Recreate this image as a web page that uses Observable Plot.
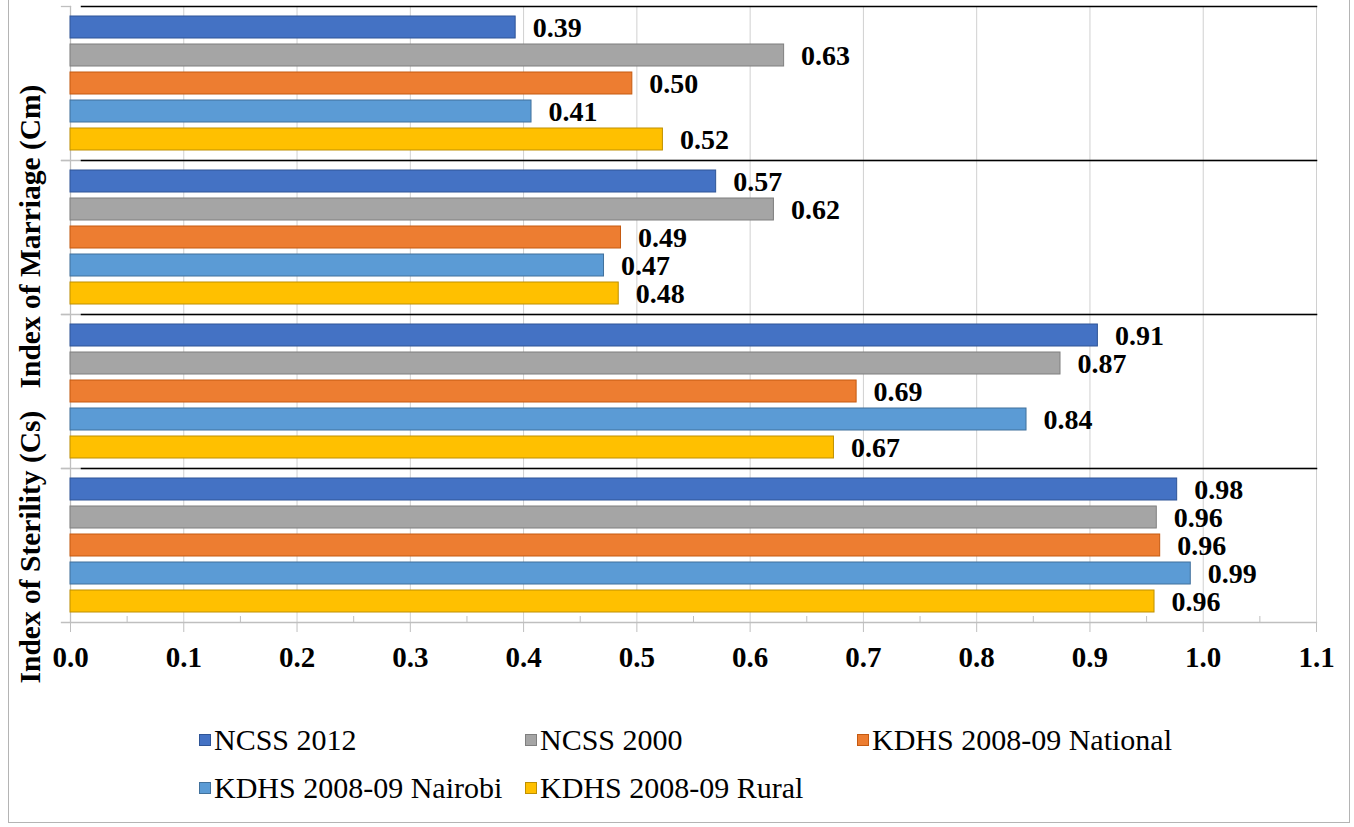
<!DOCTYPE html>
<html>
<head>
<meta charset="utf-8">
<script src="https://cdn.jsdelivr.net/npm/d3@7"></script>
<script src="https://cdn.jsdelivr.net/npm/@observablehq/plot@0.6"></script>
<style>
  html, body { margin: 0; padding: 0; background: #fff; }
  #wrap { position: relative; width: 1354px; height: 827px; overflow: hidden; font-family: "Liberation Serif", "Times New Roman", serif; }
  #border { position: absolute; left: 8px; top: -3px; width: 1342px; height: 826px; border: 1.5px solid #b4b4b4; box-sizing: border-box; }
  #chart { position: absolute; left: 0; top: 0; }
  #legend { position: absolute; left: 199px; top: 723px; display: grid; grid-template-columns: 326px 332px auto; row-gap: 14px; font-size: 30px; line-height: 34px; color: #000; }
  .item { display: flex; align-items: center; white-space: nowrap; }
  .sw { width: 12px; height: 12px; box-sizing: border-box; border: 1px solid; margin-right: 3px; }
</style>
</head>
<body>
<div id="wrap">
  <div id="chart"></div>
  <div id="legend"></div>
  <div id="border"></div>
</div>
<script>
// ---- data ----
const groups = ["Index 1", "Index 2", "Index 3", "Index 4"];
const series = ["NCSS 2012", "NCSS 2000", "KDHS 2008-09 National", "KDHS 2008-09 Nairobi", "KDHS 2008-09 Rural"];
// values per series, one per group (top to bottom)
const ncss2012     = [0.393, 0.570, 0.907, 0.977];
const ncss2000     = [0.630, 0.621, 0.874, 0.959];
const kdhsNational = [0.496, 0.486, 0.694, 0.962];
const kdhsNairobi  = [0.407, 0.471, 0.844, 0.989];
const kdhsRural    = [0.523, 0.484, 0.674, 0.957];
const xTicks = [0, 0.1, 0.2, 0.3, 0.4, 0.5, 0.6, 0.7, 0.8, 0.9, 1.0, 1.1];
const xMinorTicks = [0.05, 0.15, 0.25, 0.35, 0.45, 0.55, 0.65, 0.75, 0.85, 0.95, 1.05];
const yTitle = "Index of Sterility (Cs)\u00A0\u00A0 Index of Marriage (Cm)";

// ---- styles ----
const fillColors   = ["#4472C4", "#A5A5A5", "#ED7D31", "#5B9BD5", "#FFC000"];
const strokeColors = ["#2F5597", "#7F7F7F", "#C55A11", "#41719C", "#BF9000"];

const seriesValues = [ncss2012, ncss2000, kdhsNational, kdhsNairobi, kdhsRural];
const data = [];
groups.forEach((g, gi) => {
  series.forEach((s, si) => {
    data.push({group: g, series: s, si, value: seriesValues[si][gi]});
  });
});

const W = 1354, H = 700;
const mL = 70, mR = 38, mT = 5, mB = 78;
const font = "Liberation Serif";

const chart = Plot.plot({
  width: W,
  height: H,
  marginLeft: mL,
  marginRight: mR,
  marginTop: mT,
  marginBottom: mB,
  style: {fontFamily: font, background: "transparent"},
  x: {domain: [0, 1.1], axis: null},
  fy: {domain: groups, padding: 0, axis: null},
  y: {domain: series, paddingInner: 0.2, paddingOuter: 0.29, axis: null},
  marks: [
    Plot.gridX(xTicks, {stroke: "#d0d0d0", strokeOpacity: 1}),
    Plot.frame({anchor: "left", stroke: "#bfbfbf", strokeWidth: 1.3}),
    Plot.frame({anchor: "bottom", stroke: "#bfbfbf", strokeWidth: 1.3, insetLeft: -9}),
    Plot.frame({anchor: "top", stroke: "#bfbfbf", strokeWidth: 1.3, insetLeft: -9, insetRight: W - mL - mR}),
    Plot.frame({anchor: "top", stroke: "#000", strokeWidth: 1.5, insetLeft: 11}),
    Plot.barX(data, {
      x: "value", y: "series", fy: "group",
      fill: d => fillColors[d.si], stroke: d => strokeColors[d.si], strokeWidth: 1
    }),
    Plot.text(data, {
      x: "value", y: "series", fy: "group",
      text: d => d.value.toFixed(2),
      textAnchor: "start", dx: 17, dy: 1,
      fontSize: 28, fontWeight: "bold", fill: "#000"
    }),
    Plot.axisX({
      ticks: xTicks, tickFormat: d3.format(".1f"), tickSize: 10, tickPadding: 14,
      stroke: "#bfbfbf", fill: "#000", fontSize: 29, fontWeight: "bold", label: null
    }),
    Plot.axisX({
      ticks: xMinorTicks, tickFormat: () => "", tickSize: -6, stroke: "#bfbfbf", label: null
    })
  ]
});

document.getElementById("chart").appendChild(chart);

d3.select(chart).append("text")
  .attr("transform", "translate(40,384) rotate(-90)")
  .attr("text-anchor", "middle")
  .attr("font-family", font)
  .attr("font-size", 29.5)
  .attr("font-weight", "bold")
  .attr("fill", "#000")
  .text(yTitle);

// ---- legend ----
const legend = d3.select("#legend");
[0, 1, 2, 3, 4].forEach(i => {
  const it = legend.append("div").attr("class", "item");
  it.append("div").attr("class", "sw")
    .style("background", fillColors[i]).style("border-color", strokeColors[i]);
  it.append("span").text(series[i]);
});
</script>
</body>
</html>
